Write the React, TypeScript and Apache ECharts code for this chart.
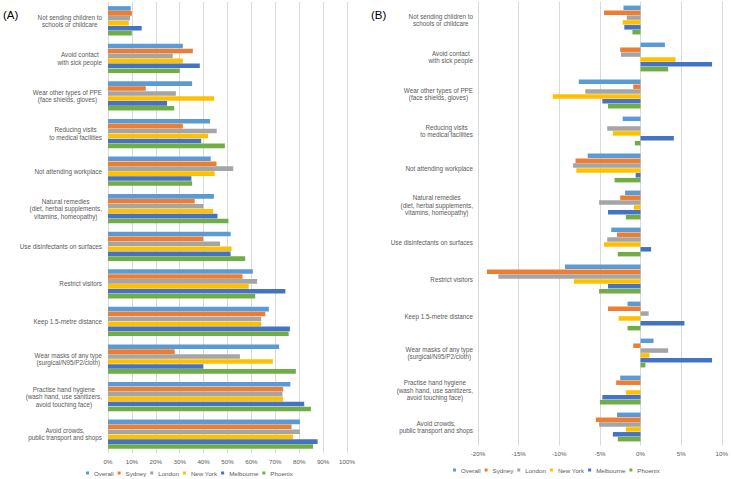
import React, { useEffect, useRef } from 'react';
import * as echarts from 'echarts';

const categories = [
  'Not sending children to\nschools or childcare',
  'Avoid contact\nwith sick people',
  'Wear other types of PPE\n(face shields, gloves)',
  'Reducing visits\nto medical facilities',
  'Not attending workplace',
  'Natural remedies\n(diet, herbal supplements,\nvitamins, homeopathy)',
  'Use disinfectants on surfaces',
  'Restrict visitors',
  'Keep 1.5-metre distance',
  'Wear masks of any type\n(surgical/N95/P2/cloth)',
  'Practise hand hygiene\n(wash hand, use sanitizers,\navoid touching face)',
  'Avoid crowds,\npublic transport and shops',
];
const seriesNames = ['Overall', 'Sydney', 'London', 'New York', 'Melbourne', 'Phoenix'];
const colors = ['#5B9BD5', '#ED7D31', '#A5A5A5', '#FFC000', '#4472C4', '#70AD47'];

// Panel A (% of respondents)
const overallA = [9.5, 31.3, 35.2, 42.7, 43.0, 44.3, 51.3, 60.6, 67.3, 71.6, 76.3, 80.3];
const sydneyA = [10.0, 35.5, 15.8, 31.3, 45.4, 36.3, 39.8, 56.3, 65.8, 27.9, 73.3, 76.8];
const londonA = [9.2, 27.1, 28.4, 45.5, 52.4, 39.9, 46.9, 62.4, 64.1, 55.2, 73.0, 80.3];
const newYorkA = [8.7, 31.3, 44.4, 41.9, 44.6, 44.0, 51.7, 58.9, 64.1, 69.0, 73.2, 77.4];
const melbourneA = [14.1, 38.4, 24.7, 39.0, 34.9, 45.8, 51.3, 74.2, 76.1, 39.8, 82.1, 87.7];
const phoenixA = [10.0, 30.0, 27.7, 48.9, 35.2, 50.4, 57.4, 61.6, 75.6, 78.6, 84.9, 85.8];

// Panel B (change, percentage points)
const overallB = [-2.1, 3.0, -7.6, -2.2, -6.5, -1.9, -3.6, -9.3, -1.6, 1.6, -2.5, -2.9];
const sydneyB = [-4.5, -2.5, -0.9, 0, -8.0, -2.5, -2.9, -18.9, -4.0, -0.9, -3.0, -5.5];
const londonB = [-1.7, -2.4, -6.8, -4.1, -8.3, -5.1, -4.1, -17.5, 1.0, 3.4, 0, -5.1];
const newYorkB = [-2.2, 4.3, -10.8, -3.4, -7.9, -0.8, -4.5, -8.2, -2.7, 1.1, -1.8, -1.8];
const melbourneB = [-2.0, 8.8, -4.7, 4.1, -0.6, -4.0, 1.3, -4.0, 5.4, 8.8, -4.7, -3.4];
const phoenixB = [-1.0, 3.4, -4.0, -0.7, -3.2, -1.8, -2.8, -5.1, -1.6, 0.6, -5.0, -2.8];

const ticksA = { min: 0, max: 100, interval: 10 };
const ticksB = { min: -20, max: 10, interval: 5 };

const dataA = [overallA, sydneyA, londonA, newYorkA, melbourneA, phoenixA];
const dataB = [overallB, sydneyB, londonB, newYorkB, melbourneB, phoenixB];

const FONT = '"Liberation Sans", Arial, sans-serif';
const TEXT = '#595959';
const GRID = '#D9D9D9';

export default function App() {
  const ref = useRef<HTMLDivElement>(null);
  useEffect(() => {
    if (!ref.current) return;
    const chart = echarts.init(ref.current, undefined, { renderer: 'svg' });
    const catLabel = (margin: number) => ({
      margin,
      formatter: (v: string) => v.split('\n').map((l) => `{c|${l}}`).join('\n'),
      rich: { c: { align: 'center', fontSize: 6.3, lineHeight: 7.5, color: TEXT, fontFamily: FONT } },
    });
    const yCommon = {
      type: 'category',
      data: categories,
      inverse: true,
      axisLine: { show: false },
      axisTick: { show: false },
      splitLine: { show: false },
    };
    const xCommon = {
      type: 'value',
      axisLine: { show: false },
      axisTick: { show: false },
      splitLine: { show: true, lineStyle: { color: GRID, width: 1 } },
    };
    const series: any[] = [];
    seriesNames.forEach((name, i) => {
      series.push({
        type: 'bar', name, xAxisIndex: 0, yAxisIndex: 0, data: dataA[i],
        itemStyle: { color: colors[i] }, barGap: '8%', barCategoryGap: '22%',
      });
    });
    seriesNames.forEach((name, i) => {
      series.push({
        type: 'bar', name, xAxisIndex: 1, yAxisIndex: 1, data: dataB[i],
        itemStyle: { color: colors[i] }, barGap: '8%', barCategoryGap: '22%',
      });
    });
    const legendCommon = {
      data: seriesNames,
      icon: 'rect',
      itemWidth: 3,
      itemHeight: 3,
      itemGap: 4,
      textStyle: { fontSize: 6.2, color: TEXT, fontFamily: FONT },
      padding: 0,
    };
    chart.setOption({
      animation: false,
      backgroundColor: '#ffffff',
      textStyle: { fontFamily: FONT },
      grid: [
        { left: 108, top: 2, width: 239, height: 451 },
        { left: 478, top: 1.5, width: 245.5, height: 444 },
      ],
      xAxis: [
        {
          ...xCommon, gridIndex: 0, ...ticksA,
          axisLabel: { formatter: '{value}%', fontSize: 6.2, color: TEXT, margin: 5, fontFamily: FONT },
        },
        {
          ...xCommon, gridIndex: 1, ...ticksB,
          axisLabel: { formatter: '{value}%', fontSize: 6.2, color: TEXT, margin: 5, fontFamily: FONT },
        },
      ],
      yAxis: [
        { ...yCommon, gridIndex: 0, axisLabel: catLabel(6) },
        { ...yCommon, gridIndex: 1, axisLabel: catLabel(5) },
      ],
      legend: [
        { ...legendCommon, left: 86, top: 470 },
        { ...legendCommon, left: 453, top: 467 },
      ],
      graphic: [
        { type: 'text', left: 3, top: 9, style: { text: '(A)', fontSize: 11.5, fill: '#000', fontFamily: FONT } },
        { type: 'text', left: 371, top: 9, style: { text: '(B)', fontSize: 11.5, fill: '#000', fontFamily: FONT } },
      ],
      series,
    });
    return () => chart.dispose();
  }, []);
  return (
    <div
      ref={ref}
      style={{ position: 'fixed', left: 0, top: 0, width: 731, height: 479, background: '#fff' }}
    />
  );
}
